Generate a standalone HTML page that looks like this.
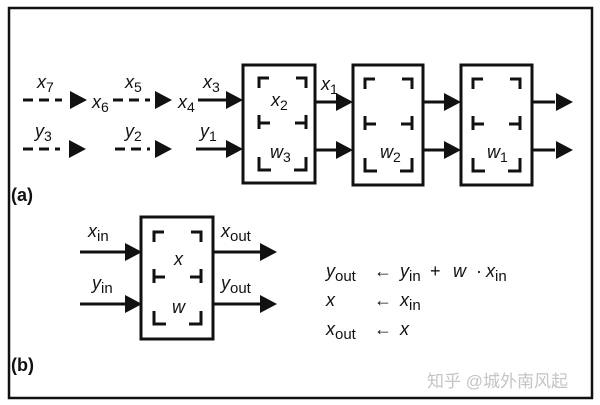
<!DOCTYPE html>
<html><head><meta charset="utf-8"><style>
html,body{margin:0;padding:0;background:#fff;}
svg{display:block;}
text{font-family:"Liberation Sans",sans-serif;fill:#111;}
.v{font-style:italic;}
.v tspan{font-style:normal;}
</style></head><body>
<svg width="600" height="405" viewBox="0 0 600 405" xmlns="http://www.w3.org/2000/svg">
<defs>
<g id="br" fill="none" stroke="#111" stroke-width="3">
  <path d="M16,23 V13 H26 M53,13 H63 V23"/>
  <path d="M16,50 V64 M16,58 H27 M63,50 V64 M63,58 H52"/>
  <path d="M16,92 V105 H28 M51,105 H63 V92"/>
</g>
<polygon id="ar" points="0,-9 17,0 0,9" fill="#111"/>
</defs>
<rect x="9" y="8" width="583" height="390" fill="none" stroke="#111" stroke-width="2.5"/>

<g stroke="#111" stroke-width="3" fill="none">
<rect x="243" y="65" width="72" height="118"/>
<rect x="353" y="65" width="70" height="120"/>
<rect x="461" y="65" width="71" height="120"/>
<rect x="141" y="217" width="72" height="122"/>
</g>
<use href="#br" transform="translate(243,65)"/>
<use href="#br" transform="translate(349,66)"/>
<use href="#br" transform="translate(457,66)"/>
<use href="#br" transform="translate(138,219)"/>

<g stroke="#111" stroke-width="3" fill="none">
<path d="M23,100 H62 M113,100 H150 M23,149 H60 M115,149 H150" stroke-dasharray="10,6"/>
<path d="M198,100 H228 M196,149 H228"/>
<path d="M315,102 H338 M315,150 H338 M423,102 H446 M423,150 H446 M532,102 H555 M532,150 H555"/>
<path d="M80,252 H126 M80,304 H126 M213,252 H260 M213,304 H260"/>
</g>
<use href="#ar" x="70" y="100"/>
<use href="#ar" x="155" y="100"/>
<use href="#ar" x="226" y="100"/>
<use href="#ar" x="69" y="149"/>
<use href="#ar" x="155" y="149"/>
<use href="#ar" x="226" y="149"/>
<use href="#ar" x="336" y="102"/>
<use href="#ar" x="336" y="150"/>
<use href="#ar" x="444" y="102"/>
<use href="#ar" x="444" y="150"/>
<use href="#ar" x="556" y="102"/>
<use href="#ar" x="556" y="150"/>
<use href="#ar" x="125" y="252"/>
<use href="#ar" x="125" y="304"/>
<use href="#ar" x="260" y="252"/>
<use href="#ar" x="260" y="304"/>

<g font-size="18" class="v">
<text x="37" y="88">x<tspan font-size="14" dy="4">7</tspan></text>
<text x="92" y="108">x<tspan font-size="14" dy="4">6</tspan></text>
<text x="125" y="88">x<tspan font-size="14" dy="4">5</tspan></text>
<text x="178" y="108">x<tspan font-size="14" dy="4">4</tspan></text>
<text x="203" y="88">x<tspan font-size="14" dy="4">3</tspan></text>
<text x="35" y="137">y<tspan font-size="14" dy="4">3</tspan></text>
<text x="125" y="137">y<tspan font-size="14" dy="4">2</tspan></text>
<text x="200" y="137">y<tspan font-size="14" dy="4">1</tspan></text>
<text x="321" y="90">x<tspan font-size="14" dy="4">1</tspan></text>
<text x="271" y="106">x<tspan font-size="14" dy="4">2</tspan></text>
<text x="270" y="158">w<tspan font-size="14" dy="4">3</tspan></text>
<text x="380" y="158">w<tspan font-size="14" dy="4">2</tspan></text>
<text x="487" y="158">w<tspan font-size="14" dy="4">1</tspan></text>
<text x="88" y="237">x<tspan font-size="15" dy="4">in</tspan></text>
<text x="92" y="289">y<tspan font-size="15" dy="4">in</tspan></text>
<text x="221" y="237">x<tspan font-size="15" dy="4">out</tspan></text>
<text x="221" y="289">y<tspan font-size="15" dy="4">out</tspan></text>
<text x="174" y="265">x</text>
<text x="172" y="313">w</text>
<text x="326" y="277">y<tspan font-size="15" dy="4">out</tspan></text>
<text x="374" y="277" font-style="normal">←</text>
<text x="400" y="277">y<tspan font-size="15" dy="4">in</tspan></text>
<text x="430" y="277" font-style="normal">+</text>
<text x="453" y="277">w</text>
<text x="476" y="277" font-style="normal">·</text>
<text x="486" y="277">x<tspan font-size="15" dy="4">in</tspan></text>
<text x="326" y="306">x</text>
<text x="374" y="306" font-style="normal">←</text>
<text x="400" y="306">x<tspan font-size="15" dy="4">in</tspan></text>
<text x="326" y="335">x<tspan font-size="15" dy="4">out</tspan></text>
<text x="374" y="335" font-style="normal">←</text>
<text x="400" y="335">x</text>
</g>
<text x="11" y="201" font-size="18" font-weight="bold">(a)</text>
<text x="11" y="371" font-size="18" font-weight="bold">(b)</text>
<text x="427" y="387" font-size="17" style="fill:#c4c4c4;font-family:'Liberation Sans','Noto Sans CJK SC',sans-serif">知乎 @城外南风起</text>
</svg>
</body></html>
